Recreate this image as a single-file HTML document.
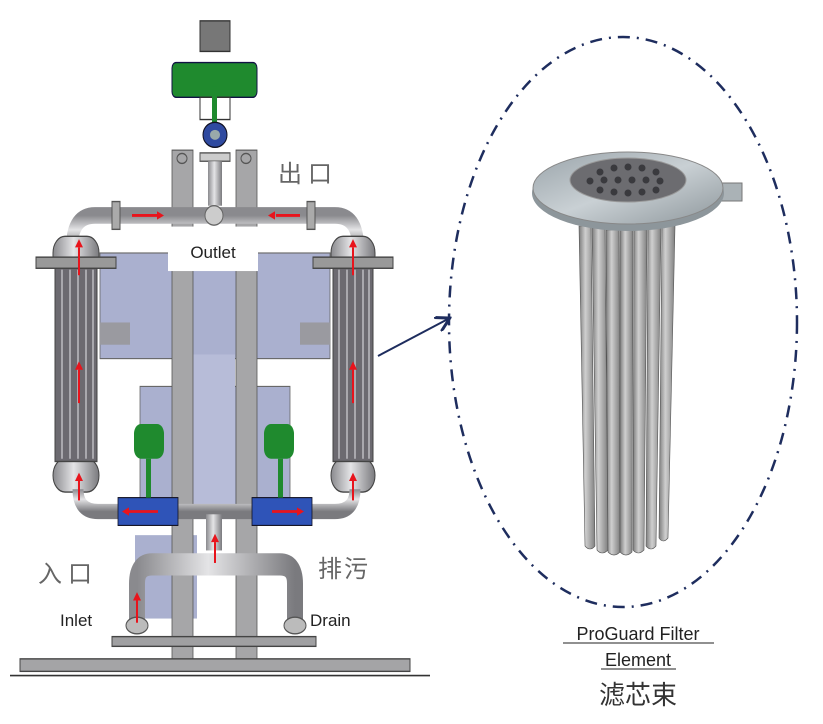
<!DOCTYPE html>
<html><head><meta charset="utf-8"><style>
html,body{margin:0;padding:0;background:#fff;}
svg{display:block}
text{font-family:"Liberation Sans","Noto Sans CJK SC",sans-serif;}
</style></head><body>
<svg width="823" height="724" viewBox="0 0 823 724" xmlns="http://www.w3.org/2000/svg">
<defs>
<linearGradient id="pv" x1="0" y1="0" x2="0" y2="1"><stop offset="0" stop-color="#8a8a8e"/><stop offset="0.45" stop-color="#e4e4e6"/><stop offset="1" stop-color="#7a7a7e"/></linearGradient>
<linearGradient id="ph" x1="0" y1="0" x2="1" y2="0"><stop offset="0" stop-color="#8a8a8e"/><stop offset="0.45" stop-color="#e4e4e6"/><stop offset="1" stop-color="#7a7a7e"/></linearGradient>
<linearGradient id="tube" x1="0" y1="0" x2="1" y2="0"><stop offset="0" stop-color="#7c7c7c"/><stop offset="0.4" stop-color="#cfcfcf"/><stop offset="1" stop-color="#808080"/></linearGradient>
<linearGradient id="disk" x1="0" y1="0" x2="1" y2="1"><stop offset="0" stop-color="#9aa4aa"/><stop offset="0.5" stop-color="#c9d0d4"/><stop offset="1" stop-color="#8e979c"/></linearGradient>
<marker id="ah" markerWidth="8" markerHeight="8" refX="6" refY="4" orient="auto"><path d="M0,0 L7,4 L0,8" fill="none" stroke="#1e2d5e" stroke-width="1.5"/></marker>
</defs>
<g transform="scale(1,1.39)">
<!-- panels -->
<rect x="100" y="182" width="230" height="76" fill="#aab0cf" stroke="#666" stroke-width="0.8"/>
<rect x="100" y="232" width="30" height="16" fill="#9a9aa0"/>
<rect x="300" y="232" width="30" height="16" fill="#9a9aa0"/>
<rect x="140" y="278" width="150" height="92" fill="#aab0cf" stroke="#666" stroke-width="0.8"/>
<rect x="193" y="255" width="42" height="108" fill="#b7bcd8"/>
<rect x="135" y="385" width="62" height="60" fill="#aab0cf"/>
<!-- posts -->
<rect x="172" y="108" width="21" height="367" fill="#a6a6a8" stroke="#555" stroke-width="0.8"/>
<rect x="236" y="108" width="21" height="367" fill="#a6a6a8" stroke="#555" stroke-width="0.8"/>
<ellipse cx="182" cy="114" rx="5" ry="3.6" fill="none" stroke="#555"/><ellipse cx="246" cy="114" rx="5" ry="3.6" fill="none" stroke="#555"/>
<rect x="168" y="163" width="90" height="32" fill="#fff"/>
<!-- top actuator -->
<rect x="200" y="15" width="30" height="22" fill="#777" stroke="#333"/>
<rect x="172" y="45" width="85" height="25" rx="4" fill="#1f8a2e" stroke="#114"/>
<rect x="200" y="70" width="30" height="16" fill="none" stroke="#333"/>
<rect x="212" y="62" width="5" height="28" fill="#1f8a2e"/>
<ellipse cx="215" cy="97" rx="12" ry="9" fill="#2f4aa0" stroke="#112"/>
<ellipse cx="215" cy="97" rx="5" ry="3.6" fill="#9aa"/>
<rect x="200" y="110" width="30" height="6" fill="#ccc" stroke="#555"/>
<rect x="208" y="116" width="14" height="32" fill="url(#ph)"/>
<!-- top pipe -->
<path d="M72,178 Q72,155 95,155 L335,155 Q358,155 358,178" fill="none" stroke="url(#pv)" stroke-width="12"/>
<ellipse cx="214" cy="155" rx="9" ry="7" fill="#ccc" stroke="#666"/>
<rect x="112" y="145" width="8" height="20" fill="#aaa" stroke="#555"/>
<rect x="307" y="145" width="8" height="20" fill="#aaa" stroke="#555"/>
<!-- tanks -->
<g stroke="#444" stroke-width="1">
<rect x="53" y="170" width="46" height="26" rx="12" fill="url(#ph)"/>
<rect x="53" y="330" width="46" height="24" rx="12" fill="url(#ph)"/>
<rect x="55" y="190" width="42" height="142" fill="#6c6a70"/>
<rect x="36" y="185" width="80" height="8" fill="#999"/>
<rect x="331" y="170" width="44" height="26" rx="12" fill="url(#ph)"/>
<rect x="331" y="330" width="44" height="24" rx="12" fill="url(#ph)"/>
<rect x="333" y="190" width="40" height="142" fill="#6c6a70"/>
<rect x="313" y="185" width="80" height="8" fill="#999"/>
</g>
<g stroke="#a9a8ad" stroke-width="2">
<line x1="62" y1="194" x2="62" y2="330"/><line x1="70" y1="194" x2="70" y2="330"/><line x1="78" y1="194" x2="78" y2="330"/><line x1="86" y1="194" x2="86" y2="330"/><line x1="93" y1="194" x2="93" y2="330"/>
<line x1="339" y1="194" x2="339" y2="330"/><line x1="347" y1="194" x2="347" y2="330"/><line x1="355" y1="194" x2="355" y2="330"/><line x1="363" y1="194" x2="363" y2="330"/><line x1="369" y1="194" x2="369" y2="330"/>
</g>
<!-- bottom pipe -->
<path d="M78,352 Q78,368 98,368 L335,368 Q355,368 355,352" fill="none" stroke="url(#pv)" stroke-width="11"/>
<!-- blue valves -->
<g fill="#2f54b8" stroke="#112" stroke-width="0.8">
<rect x="118" y="358" width="60" height="20"/>
<rect x="252" y="358" width="60" height="20"/>
</g>
<rect x="134" y="305" width="30" height="25" rx="7" fill="#1f8a2e"/>
<rect x="264" y="305" width="30" height="25" rx="7" fill="#1f8a2e"/>
<rect x="146" y="330" width="5" height="28" fill="#1f8a2e"/><rect x="278" y="330" width="5" height="28" fill="#1f8a2e"/>
<!-- lower U pipe -->
<rect x="206" y="370" width="16" height="26" fill="url(#ph)"/>
<path d="M137,450 L137,420 Q137,406 152,406 L280,406 Q295,406 295,420 L295,450" fill="none" stroke="url(#ph)" stroke-width="16"/>
<ellipse cx="137" cy="450" rx="11" ry="6" fill="#bbb" stroke="#555"/>
<ellipse cx="295" cy="450" rx="11" ry="6" fill="#bbb" stroke="#555"/>
<!-- base -->
<rect x="112" y="458" width="204" height="7" fill="#a0a0a2" stroke="#444"/>
<rect x="20" y="474" width="390" height="9" fill="#a4a4a6" stroke="#444"/>
<line x1="10" y1="486" x2="430" y2="486" stroke="#333" stroke-width="1.2"/>
<!-- red arrows -->
<g stroke="#e8141c" stroke-width="2" fill="#e8141c">
<line x1="132" y1="155" x2="158" y2="155"/><path d="M164,155 l-7,-3 v6z" stroke="none"/>
<line x1="300" y1="155" x2="276" y2="155"/><path d="M268,155 l7,-3 v6z" stroke="none"/>
<line x1="79" y1="198" x2="79" y2="178"/><path d="M79,172 l-4,6 h8z" stroke="none"/>
<line x1="79" y1="290" x2="79" y2="266"/><path d="M79,260 l-4,6 h8z" stroke="none"/>
<line x1="79" y1="360" x2="79" y2="346"/><path d="M79,340 l-4,6 h8z" stroke="none"/>
<line x1="353" y1="198" x2="353" y2="178"/><path d="M353,172 l-4,6 h8z" stroke="none"/>
<line x1="353" y1="290" x2="353" y2="266"/><path d="M353,260 l-4,6 h8z" stroke="none"/>
<line x1="353" y1="360" x2="353" y2="346"/><path d="M353,340 l-4,6 h8z" stroke="none"/>
<line x1="158" y1="368" x2="128" y2="368"/><path d="M122,368 l7,-3 v6z" stroke="none"/>
<line x1="272" y1="368" x2="298" y2="368"/><path d="M304,368 l-7,-3 v6z" stroke="none"/>
<line x1="215" y1="405" x2="215" y2="390"/><path d="M215,384 l-4,6 h8z" stroke="none"/>
<line x1="137" y1="448" x2="137" y2="432"/><path d="M137,426 l-4,6 h8z" stroke="none"/>
</g>
</g>
<!-- labels -->
<text x="213" y="258" font-size="17" text-anchor="middle" fill="#222">Outlet</text>
<text x="278" y="182" font-size="24" fill="#666" letter-spacing="6" font-family="Noto Serif CJK SC, serif">出口</text>
<text x="38" y="582" font-size="24" fill="#666" letter-spacing="6" font-family="Noto Serif CJK SC, serif">入口</text>
<text x="318" y="577" font-size="24" fill="#666" letter-spacing="2" font-family="Noto Serif CJK SC, serif">排污</text>
<text x="60" y="626" font-size="17" fill="#222">Inlet</text>
<text x="310" y="626" font-size="17" fill="#222">Drain</text>
<!-- connector -->
<line x1="378" y1="356" x2="448" y2="319" stroke="#1e2d5e" stroke-width="2" marker-end="url(#ah)"/>
<ellipse cx="623" cy="322" rx="174" ry="285" fill="none" stroke="#1e2d5e" stroke-width="2.5" stroke-dasharray="12,7,2,7"/>
<!-- filter element -->
<g fill="url(#tube)" stroke="#555" stroke-width="0.6">
<path d="M579,226 h12 l4,320 q-5,6 -10,0 z"/>
<path d="M592,228 h13 l3,322 q-6,6 -11,0 z"/>
<path d="M606,230 h13 l1,322 q-6,6 -12,0 z"/>
<path d="M620,230 h13 l-1,322 q-6,6 -12,0 z"/>
<path d="M634,230 h13 l-3,320 q-6,6 -11,0 z"/>
<path d="M648,228 h13 l-5,318 q-5,6 -10,0 z"/>
<path d="M662,226 h13 l-7,312 q-5,6 -9,0 z"/>
</g>
<rect x="720" y="183" width="22" height="18" fill="#aab2b6" stroke="#777"/>
<ellipse cx="628" cy="193" rx="96" ry="38" fill="#8d969b"/>
<ellipse cx="628" cy="188" rx="95" ry="36" fill="url(#disk)" stroke="#888"/>
<ellipse cx="628" cy="180" rx="58" ry="22" fill="#6c6c70" stroke="#999"/>
<g fill="#3a3a3e">
<circle cx="600" cy="172" r="3.5"/><circle cx="614" cy="168" r="3.5"/><circle cx="628" cy="167" r="3.5"/><circle cx="642" cy="168" r="3.5"/><circle cx="656" cy="172" r="3.5"/>
<circle cx="590" cy="181" r="3.5"/><circle cx="604" cy="180" r="3.5"/><circle cx="618" cy="180" r="3.5"/><circle cx="632" cy="180" r="3.5"/><circle cx="646" cy="180" r="3.5"/><circle cx="660" cy="181" r="3.5"/>
<circle cx="600" cy="190" r="3.5"/><circle cx="614" cy="192" r="3.5"/><circle cx="628" cy="193" r="3.5"/><circle cx="642" cy="192" r="3.5"/><circle cx="656" cy="190" r="3.5"/>
</g>
<!-- caption -->
<text x="638" y="640" font-size="18" text-anchor="middle" fill="#222">ProGuard Filter</text>
<line x1="563" y1="643" x2="714" y2="643" stroke="#222" stroke-width="1"/>
<text x="638" y="666" font-size="18" text-anchor="middle" fill="#222">Element</text>
<line x1="601" y1="669" x2="676" y2="669" stroke="#222" stroke-width="1"/>
<text x="638" y="704" font-size="26" text-anchor="middle" fill="#333" font-family="Noto Serif CJK SC, serif">滤芯束</text>
</svg>
</body></html>
